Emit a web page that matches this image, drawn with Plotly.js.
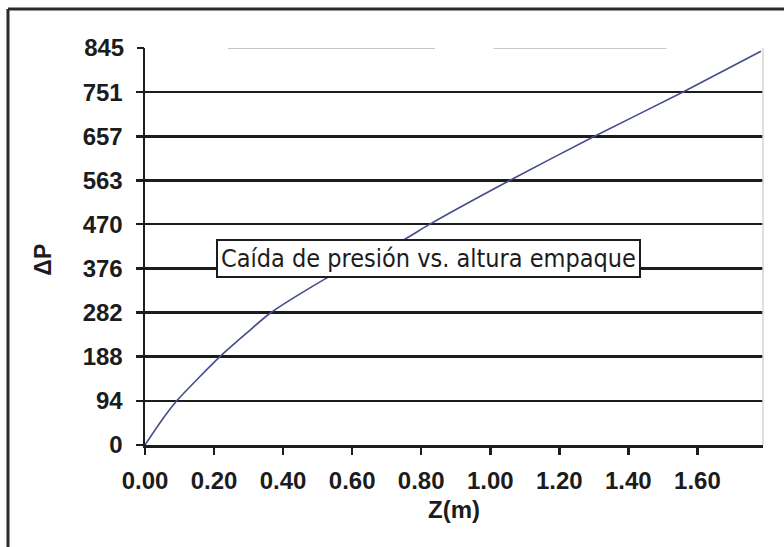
<!DOCTYPE html>
<html>
<head>
<meta charset="utf-8">
<script src="https://cdn.plot.ly/plotly-3.0.1.min.js"></script>
<style>
  html, body { margin: 0; padding: 0; background: #fff; }
  #chart { width: 784px; height: 547px; }
</style>
</head>
<body>
<div id="chart"></div>
<script>
// Pressure drop across the packing as a function of packed height
const alturaZ = [0, 0.043, 0.092, 0.217, 0.294, 0.365, 0.535, 0.75, 0.825, 1.056, 1.302, 1.557, 1.784];
const caidaPresion = [0, 47, 94, 188, 238, 282, 359, 437, 470, 563, 657, 751, 838];

// Axis ticks
const yTicks = [0, 94, 188, 282, 376, 470, 563, 657, 751, 845];
const xTicks = [0, 0.2, 0.4, 0.6, 0.8, 1.0, 1.2, 1.4, 1.6];
const xTickLabels = xTicks.map(v => v.toFixed(2));

const ink = '#1c1c1c';
const tickFont = { family: 'Liberation Sans, Arial, sans-serif', size: 24, color: ink, weight: 'bold' };

const yGrid = yTicks.slice(0, -1);          // ruled lines
const yTop = yTicks[yTicks.length - 1];     // top label only, faint rule
const xMax = 1.79;

const curve = {
  x: alturaZ,
  y: caidaPresion,
  type: 'scatter',
  mode: 'lines',
  line: { color: '#454c8c', width: 1.6, shape: 'spline', smoothing: 0.7 },
  hoverinfo: 'skip',
  showlegend: false
};

// empty trace that keeps the second (label-only) y axis alive
const topAxisHolder = {
  x: [null], y: [null], yaxis: 'y2', type: 'scatter', mode: 'lines',
  hoverinfo: 'skip', showlegend: false
};

const layout = {
  width: 784,
  height: 547,
  margin: { l: 145, r: 21, t: 48, b: 102 },
  paper_bgcolor: '#fff',
  plot_bgcolor: '#fff',
  showlegend: false,
  xaxis: {
    range: [0, xMax],
    tickvals: xTicks,
    ticktext: xTickLabels,
    ticks: 'outside',
    ticklen: 7,
    tickwidth: 2.5,
    tickcolor: ink,
    ticklabelstandoff: 6,
    showline: true,
    linecolor: ink,
    linewidth: 2.5,
    showgrid: false,
    zeroline: false,
    tickfont: tickFont,
    title: {
      text: 'Z(m)',
      font: { family: 'Liberation Sans, Arial, sans-serif', size: 24, color: ink, weight: 'bold' },
      standoff: 8
    }
  },
  yaxis: {
    range: [0, yTop],
    tickvals: yGrid,
    ticktext: yGrid.map(String),
    ticks: 'outside',
    ticklen: 7,
    tickwidth: 2.5,
    tickcolor: ink,
    ticklabelstandoff: 8,
    showline: true,
    linecolor: ink,
    linewidth: 2.5,
    showgrid: true,
    gridcolor: ink,
    gridwidth: 2.5,
    zeroline: false,
    tickfont: tickFont
  },
  yaxis2: {
    overlaying: 'y',
    anchor: 'x',
    side: 'left',
    range: [0, yTop],
    tickvals: [yTop],
    ticktext: [String(yTop)],
    ticks: 'outside',
    ticklen: 7,
    tickwidth: 2.5,
    tickcolor: ink,
    ticklabelstandoff: 8,
    showline: false,
    showgrid: false,
    zeroline: false,
    tickfont: tickFont
  },
  annotations: [
    {
      xref: 'paper', yref: 'paper',
      x: -0.165, y: 0.467,
      text: '<b>ΔP</b>',
      textangle: -90,
      showarrow: false,
      xanchor: 'center', yanchor: 'middle',
      font: { family: 'Liberation Sans, Arial, sans-serif', size: 23, color: ink }
    },
    {
      xref: 'paper', yref: 'paper',
      x: 0.458, y: 0.471,
      text: 'Caída de presión vs. altura empaque',
      showarrow: false,
      xanchor: 'center', yanchor: 'middle',
      bgcolor: '#fff',
      bordercolor: ink,
      borderwidth: 2,
      borderpad: 3,
      font: { family: 'DejaVu Sans Condensed, DejaVu Sans, sans-serif', size: 25, color: ink }
    }
  ],
  shapes: [
    // outer chart frame (left and top edges)
    { type: 'line', xref: 'paper', yref: 'paper', x0: -0.2217, x1: -0.2217, y0: 1.098, y1: -0.27,
      line: { color: '#2a2a2a', width: 3 } },
    { type: 'line', xref: 'paper', yref: 'paper', x0: -0.2217, x1: 1.05, y0: 1.098, y1: 1.098,
      line: { color: '#2a2a2a', width: 3 } },
    // faint right edge of plot area
    { type: 'line', xref: 'paper', yref: 'paper', x0: 1, x1: 1, y0: 0, y1: 1,
      line: { color: '#d6d6d6', width: 1.5 } },
    // faint rule at the top value
    { type: 'line', xref: 'x', yref: 'y', x0: 0.24, x1: 0.84, y0: yTop, y1: yTop,
      line: { color: '#c4c4c4', width: 2 } },
    { type: 'line', xref: 'x', yref: 'y', x0: 1.01, x1: 1.51, y0: yTop, y1: yTop,
      line: { color: '#c8c8c8', width: 2 } }
  ]
};

Plotly.newPlot('chart', [curve, topAxisHolder], layout, { staticPlot: true, displayModeBar: false });
</script>
</body>
</html>
